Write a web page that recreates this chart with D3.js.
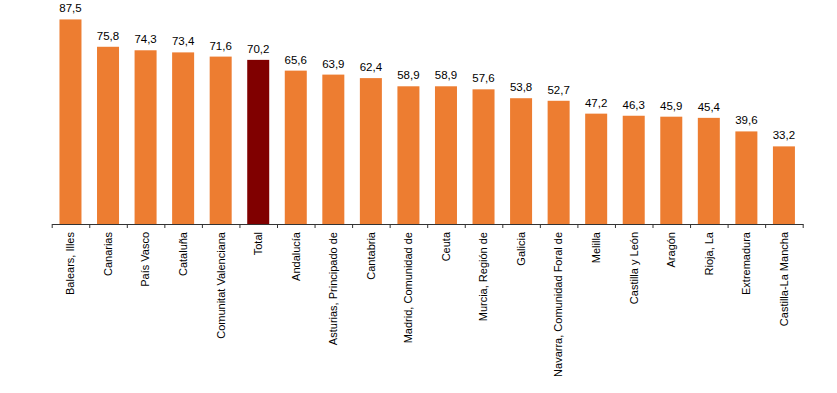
<!DOCTYPE html>
<html>
<head>
<meta charset="utf-8">
<script src="https://cdn.jsdelivr.net/npm/d3@7"></script>
<style>
  body { margin: 0; background: #fff; }
  svg { display: block; font-family: "Liberation Sans", Arial, sans-serif; }
</style>
</head>
<body>
<div id="chart"></div>
<script>
const CATEGORIES = [
  'Balears, Illes', 'Canarias', 'País Vasco', 'Cataluña', 'Comunitat Valenciana',
  'Total', 'Andalucía', 'Asturias, Principado de', 'Cantabria', 'Madrid, Comunidad de',
  'Ceuta', 'Murcia, Región de', 'Galicia', 'Navarra, Comunidad Foral de', 'Melilla',
  'Castilla y León', 'Aragón', 'Rioja, La', 'Extremadura', 'Castilla-La Mancha'
];
const VALUES = [87.5, 75.8, 74.3, 73.4, 71.6, 70.2, 65.6, 63.9, 62.4, 58.9,
  58.9, 57.6, 53.8, 52.7, 47.2, 46.3, 45.9, 45.4, 39.6, 33.2];
const HIGHLIGHT = 'Total';

const width = 837, height = 393;
const x0 = 51.7, x1 = 802.7, baseY = 224;

const data = CATEGORIES.map((c, i) => ({ name: c, value: VALUES[i] }));

const svg = d3.select('#chart').append('svg')
  .attr('width', width).attr('height', height);

const x = d3.scaleBand()
  .domain(CATEGORIES)
  .range([x0, x1])
  .paddingInner(0.414)
  .paddingOuter(0.207);

const y = d3.scaleLinear()
  .domain([0, 90])
  .range([baseY, baseY - 2.338 * 90]);

// bars
svg.selectAll('rect.bar')
  .data(data)
  .enter().append('rect')
  .attr('class', 'bar')
  .attr('x', d => x(d.name))
  .attr('y', d => y(d.value))
  .attr('width', x.bandwidth())
  .attr('height', d => y(0) - y(d.value))
  .attr('fill', d => d.name === HIGHLIGHT ? '#800000' : '#ED7D31');

// value labels
svg.selectAll('text.val')
  .data(data)
  .enter().append('text')
  .attr('class', 'val')
  .attr('x', d => x(d.name) + x.bandwidth() / 2)
  .attr('y', d => y(d.value) - 7)
  .attr('text-anchor', 'middle')
  .style('font-size', '11.5px')
  .style('fill', '#000')
  .text(d => d3.format('.1f')(d.value).replace('.', ','));

// axis with ticks at band boundaries
const tickScale = d3.scaleLinear().domain([0, CATEGORIES.length]).range([x0, x1]);
svg.append('g')
  .attr('transform', `translate(0,${baseY})`)
  .call(d3.axisBottom(tickScale).tickValues(d3.range(CATEGORIES.length + 1))
    .tickSize(4).tickSizeOuter(0).tickFormat(''))
  .call(g => g.selectAll('line, path').attr('stroke', '#333'));

// category labels
svg.selectAll('text.cat')
  .data(data)
  .enter().append('text')
  .attr('class', 'cat')
  .attr('transform', d => `translate(${x(d.name) + x.bandwidth() / 2},${baseY + 8}) rotate(-90)`)
  .attr('text-anchor', 'end')
  .attr('dy', '0.35em')
  .style('font-size', '11px')
  .style('fill', '#000')
  .text(d => d.name);
</script>
</body>
</html>
